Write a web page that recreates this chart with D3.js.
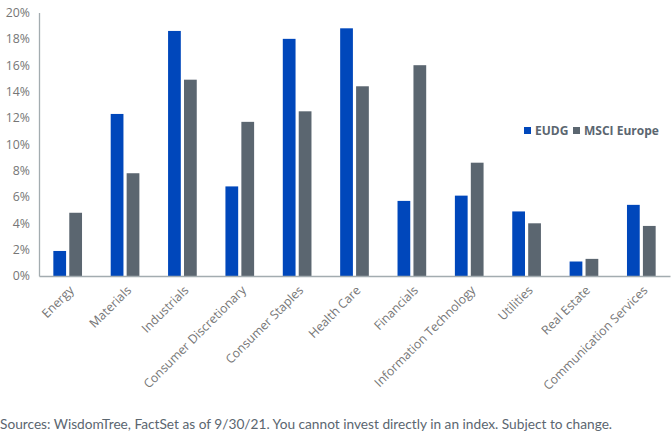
<!DOCTYPE html>
<html>
<head>
<meta charset="utf-8">
<script src="https://cdn.jsdelivr.net/npm/d3@7"></script>
<style>
  body { margin: 0; background: #fff; }
</style>
</head>
<body>
<script>
// sector weights
var sectors = ["Energy", "Materials", "Industrials", "Consumer Discretionary", "Consumer Staples",
               "Health Care", "Financials", "Information Technology", "Utilities", "Real Estate",
               "Communication Services"];
var eudg = [1.9, 12.3, 18.6, 6.8, 18.0, 18.8, 5.7, 6.1, 4.9, 1.1, 5.4];
var msci = [4.8, 7.8, 14.9, 11.7, 12.5, 14.4, 16.0, 8.6, 4.0, 1.3, 3.8];
var seriesNames = ["EUDG", "MSCI Europe"];
var yTicks = [0, 2, 4, 6, 8, 10, 12, 14, 16, 18, 20];
var sourceNote = "Sources: WisdomTree, FactSet as of 9/30/21. You cannot invest directly in an index. Subject to change.";

var w = 672;
var h = 447;
var colors = ["#0047BB", "#5B6670"];

var svg = d3.select("body")
            .append("svg")
            .attr("width", w)
            .attr("height", h);

var x0 = d3.scaleBand()
           .domain(sectors)
           .range([39, 670])
           .paddingInner(0.5)
           .paddingOuter(0.25);

var x1 = d3.scaleBand()
           .domain(seriesNames)
           .range([0, x0.bandwidth()])
           .paddingInner(0.2);

var yScale = d3.scaleLinear()
               .domain([0, 20])
               .range([276, 12.5]);

// y axis
var yAxis = d3.axisLeft(yScale)
              .tickValues(yTicks)
              .tickSize(0)
              .tickPadding(9)
              .tickFormat(function(d) { return d + "%"; });

var gy = svg.append("g")
            .attr("transform", "translate(39,0)")
            .call(yAxis);
gy.select(".domain").attr("stroke", "#A3ACB0").attr("stroke-width", 1.3);
gy.selectAll("text")
  .attr("font-family", "Open Sans, sans-serif")
  .attr("font-size", "12.3px")
  .attr("fill", "#767676");

// bars
var rows = sectors.map(function(s, i) {
  return { sector: s, values: [eudg[i], msci[i]] };
});

var groups = svg.selectAll("g.grp")
   .data(rows)
   .enter()
   .append("g")
   .attr("class", "grp")
   .attr("transform", function(d) { return "translate(" + x0(d.sector) + ",0)"; });

groups.selectAll("rect")
   .data(function(d) { return d.values.map(function(v, j) { return { name: seriesNames[j], v: v, j: j }; }); })
   .enter()
   .append("rect")
   .attr("x", function(d) { return x1(d.name); })
   .attr("y", function(d) { return yScale(d.v); })
   .attr("width", x1.bandwidth())
   .attr("height", function(d) { return yScale(0) - yScale(d.v); })
   .attr("fill", function(d) { return colors[d.j]; });

// x axis
var xAxis = d3.axisBottom(x0).tickSize(0).tickPadding(0);
var gx = svg.append("g")
            .attr("transform", "translate(0,276)")
            .call(xAxis);
gx.select(".domain").attr("stroke", "#A3ACB0").attr("stroke-width", 1.3);
gx.selectAll("text")
  .attr("font-family", "Open Sans, sans-serif")
  .attr("font-size", "12.3px")
  .attr("fill", "#767676")
  .attr("text-anchor", "end")
  .attr("dy", "0")
  .attr("transform", "translate(7,15) rotate(-45)");

// legend
var legend = svg.append("g").attr("transform", "translate(524,127)");
var lx = [0, 49];
seriesNames.forEach(function(n, i) {
  legend.append("rect")
        .attr("x", lx[i])
        .attr("y", 0)
        .attr("width", 7)
        .attr("height", 7)
        .attr("fill", colors[i]);
  legend.append("text")
        .attr("x", lx[i] + 11)
        .attr("y", 8)
        .attr("font-family", "Open Sans, sans-serif")
        .attr("font-size", "12px")
        .attr("font-weight", "bold")
        .attr("fill", "#5B6670")
        .text(n);
});

// source note
svg.append("text")
   .attr("x", 0)
   .attr("y", 429)
   .attr("font-family", "Lato, sans-serif")
   .attr("font-size", "13.7px")
   .attr("fill", "#5B6670")
   .text(sourceNote);
</script>
</body>
</html>
